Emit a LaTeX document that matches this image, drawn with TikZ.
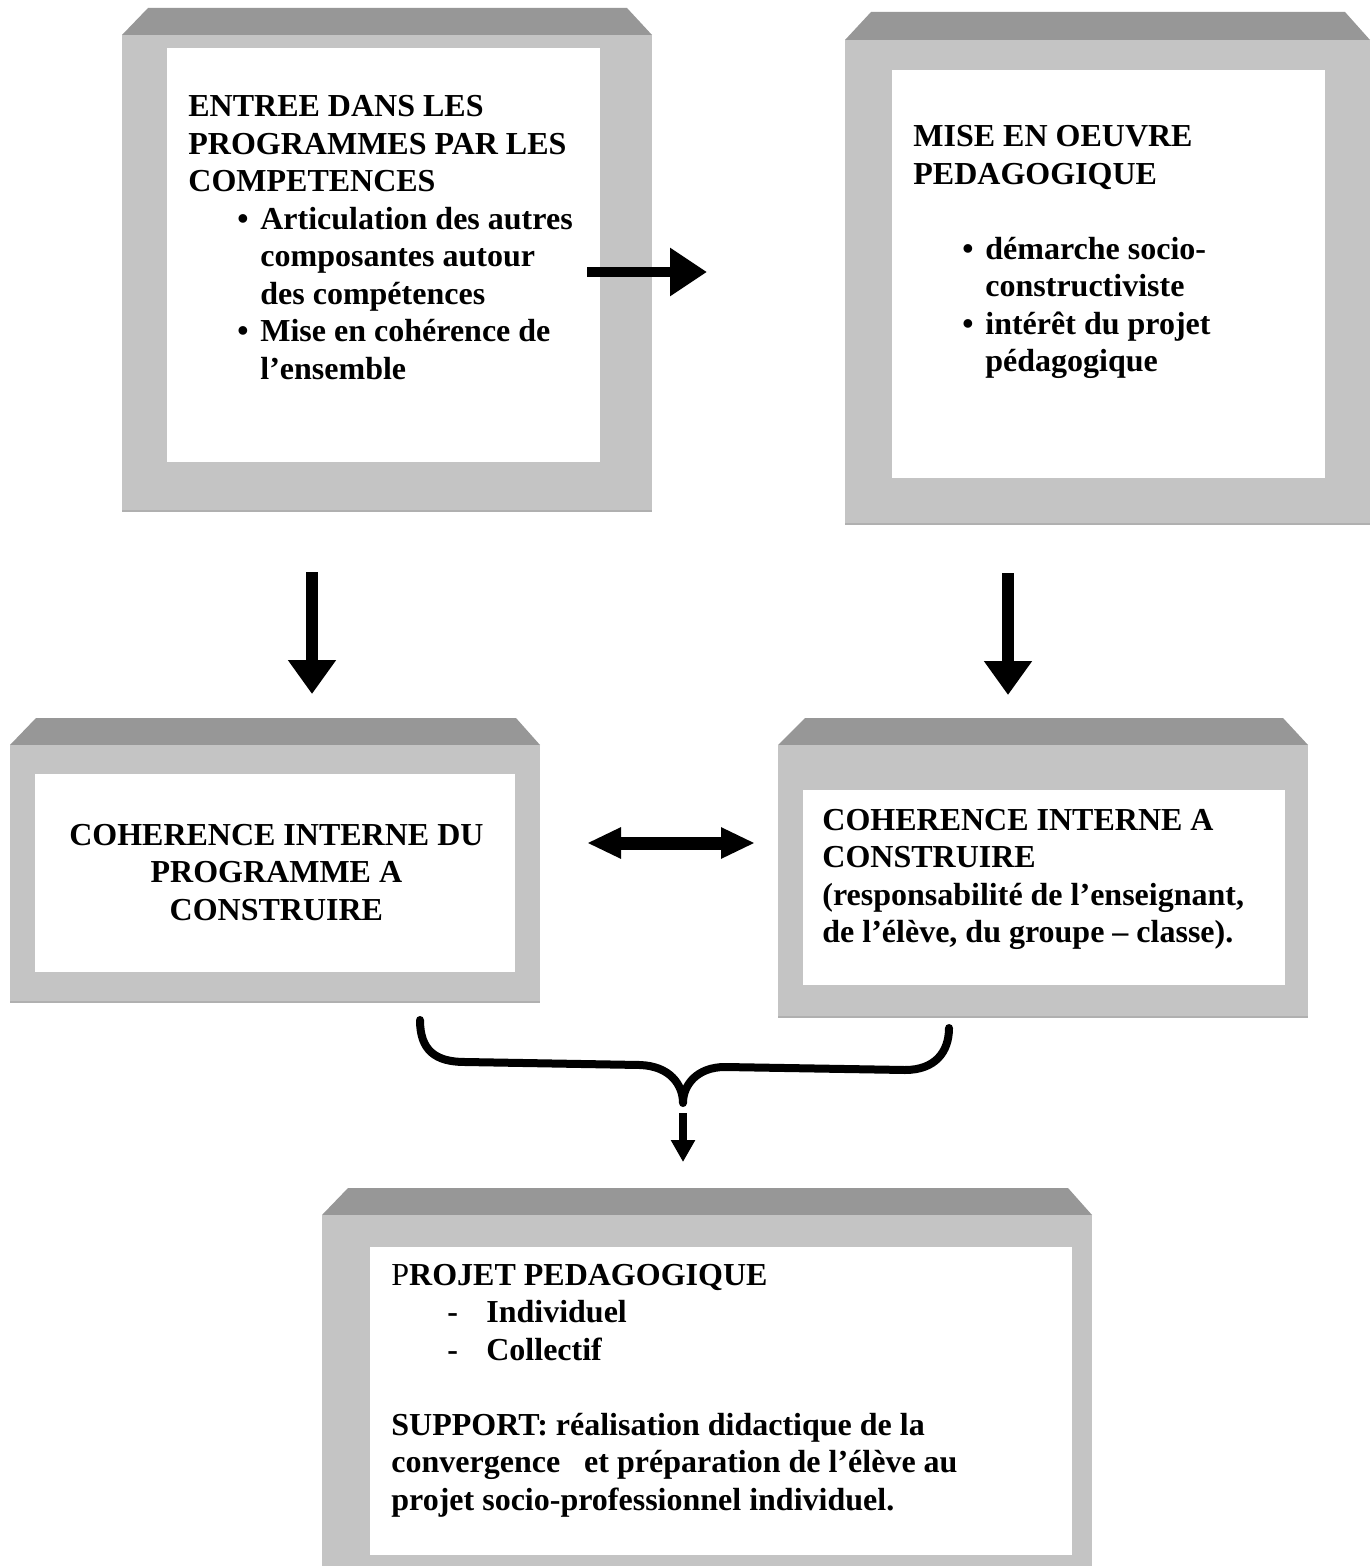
\documentclass[tikz,border=0pt]{standalone}
\usepackage{fontspec}
\setmainfont{Liberation Serif}
\usetikzlibrary{arrows.meta}
\definecolor{bevtop}{HTML}{979797}
\definecolor{bevface}{HTML}{C4C4C4}
\definecolor{bevedge}{HTML}{B0B0B0}
\newcommand\txl[1]{\hbox{#1}}
\newcommand\txc[1]{\hbox to 0pt{\hss#1\hss}}
\newcommand\bul[1]{\hbox{\hbox to 36pt{\hskip24.5pt\textbullet\hss}#1}}
\newcommand\ind[1]{\hbox{\hskip36pt #1}}
\newcommand\dsh[1]{\hbox{\hbox to 47.5pt{\hskip28pt-\hss}#1}}
\newcommand\blk[1]{\vtop{\baselineskip=18.75pt\lineskiplimit=-50pt\lineskip=0pt #1}}
\begin{document}
\begin{tikzpicture}[x=0.5pt,y=-0.5pt,
  txt/.style={inner sep=0pt,anchor=base west,font=\fontsize{16pt}{18.75pt}\selectfont\bfseries},
  inbox/.style={fill=white,inner sep=0pt,outer sep=0pt},
  blockarrow/.style={draw=black,line cap=butt}]
\useasboundingbox (0,0) rectangle (1370,1566);
\fill[white] (0,0) rectangle (1370,1566);
% ---------- Box 1 ----------
\fill[bevtop] (122,35) -- (148,8) -- (627,8) -- (652,35) -- cycle;
\fill[bevface] (122,35) rectangle (652,512);
\draw[bevedge,line width=1pt] (122,511) -- (652,511);
\node[inbox,minimum width=216.5pt,minimum height=207pt] (b1) at (383.5,255) {};
% ---------- Box 2 ----------
\fill[bevtop] (845,40) -- (871,12) -- (1345,12) -- (1370,40) -- cycle;
\fill[bevface] (845,40) rectangle (1370,525);
\draw[bevedge,line width=1pt] (845,524) -- (1370,524);
\node[inbox,minimum width=216.5pt,minimum height=204pt] (b2) at (1108.5,274) {};
% ---------- Box 3 ----------
\fill[bevtop] (10,745) -- (36,718) -- (516,718) -- (540,745) -- cycle;
\fill[bevface] (10,745) rectangle (540,1003);
\draw[bevedge,line width=1pt] (10,1002) -- (540,1002);
\node[inbox,minimum width=240pt,minimum height=99pt] (b3) at (275,873) {};
% ---------- Box 4 ----------
\fill[bevtop] (778,745) -- (805,718) -- (1283,718) -- (1308,745) -- cycle;
\fill[bevface] (778,745) rectangle (1308,1018);
\draw[bevedge,line width=1pt] (778,1017) -- (1308,1017);
\node[inbox,minimum width=241pt,minimum height=97.5pt] (b4) at (1044,887.5) {};
% ---------- Box 5 ----------
\fill[bevtop] (322,1215) -- (348,1188) -- (1068,1188) -- (1092,1215) -- cycle;
\fill[bevface] (322,1215) rectangle (1092,1566);
\node[inbox,minimum width=351pt,minimum height=154pt] (b5) at (721,1401) {};
% ---------- Texts ----------
\node[txt] (t1) at (188,117) {\blk{%
  \txl{ENTREE DANS LES}\txl{PROGRAMMES PAR LES}\txl{COMPETENCES}%
  \bul{Articulation des autres}\ind{composantes autour}\ind{des compétences}%
  \bul{Mise en cohérence de}\ind{l’ensemble}}};
\node[txt] (t2) at (913,147) {\blk{%
  \txl{MISE EN OEUVRE}\txl{PEDAGOGIQUE}\txl{}%
  \bul{démarche socio-}\ind{constructiviste}%
  \bul{intérêt du projet}\ind{pédagogique}}};
\node[txt] (t3) at (275,845) {\blk{%
  \txc{COHERENCE INTERNE DU}\txc{PROGRAMME A}\txc{CONSTRUIRE}}};
\node[txt] (t4) at (822,830) {\blk{%
  \txl{COHERENCE INTERNE A}\txl{CONSTRUIRE}%
  \txl{(responsabilité de l’enseignant,}\txl{de l’élève, du groupe – classe).}}};
\node[txt] (t5) at (391,1285) {\blk{%
  \txl{{\mdseries P}ROJET PEDAGOGIQUE}\dsh{Individuel}\dsh{Collectif}\txl{}%
  \txl{SUPPORT: réalisation didactique de la}%
  \txl{convergence\ \ \ et préparation de l’élève au}%
  \txl{projet socio-professionnel individuel.}}};
% ---------- Connectors ----------
\coordinate (a1s) at (587,272);  \coordinate (a1e) at (707,272);
\coordinate (a2s) at (312,572);  \coordinate (a2e) at (312,694);
\coordinate (a3s) at (1008,573); \coordinate (a3e) at (1008,695);
\coordinate (a4s) at (587,843);  \coordinate (a4e) at (755,843);
\coordinate (bl) at (420,1020);  \coordinate (br) at (949,1028);
\coordinate (btip) at (683,1103);
\coordinate (a5s) at (683,1113); \coordinate (a5e) at (683,1162);
\draw[blockarrow,line width=5pt,-{Triangle[length=18.5pt,width=23pt]}] (a1s) -- (a1e);
\draw[blockarrow,line width=6pt,-{Triangle[length=17pt,width=23pt]}] (a2s) -- (a2e);
\draw[blockarrow,line width=6pt,-{Triangle[length=17pt,width=23pt]}] (a3s) -- (a3e);
\draw[blockarrow,line width=6.5pt,{Triangle[length=17pt,width=14.5pt]}-{Triangle[length=17pt,width=14.5pt]}] (a4s) -- (a4e);
\draw[line width=4pt,line cap=round,line join=round]
  (bl) .. controls (420,1050) and (435,1062) .. (465,1062) -- (640,1065)
  .. controls (670,1066) and (683,1085) .. (btip)
  .. controls (683,1085) and (697,1067) .. (725,1067) -- (905,1070)
  .. controls (935,1070) and (949,1052) .. (br);
\draw[blockarrow,line width=4pt,-{Triangle[length=11pt,width=11.5pt]}] (a5s) -- (a5e);
\end{tikzpicture}
\end{document}
